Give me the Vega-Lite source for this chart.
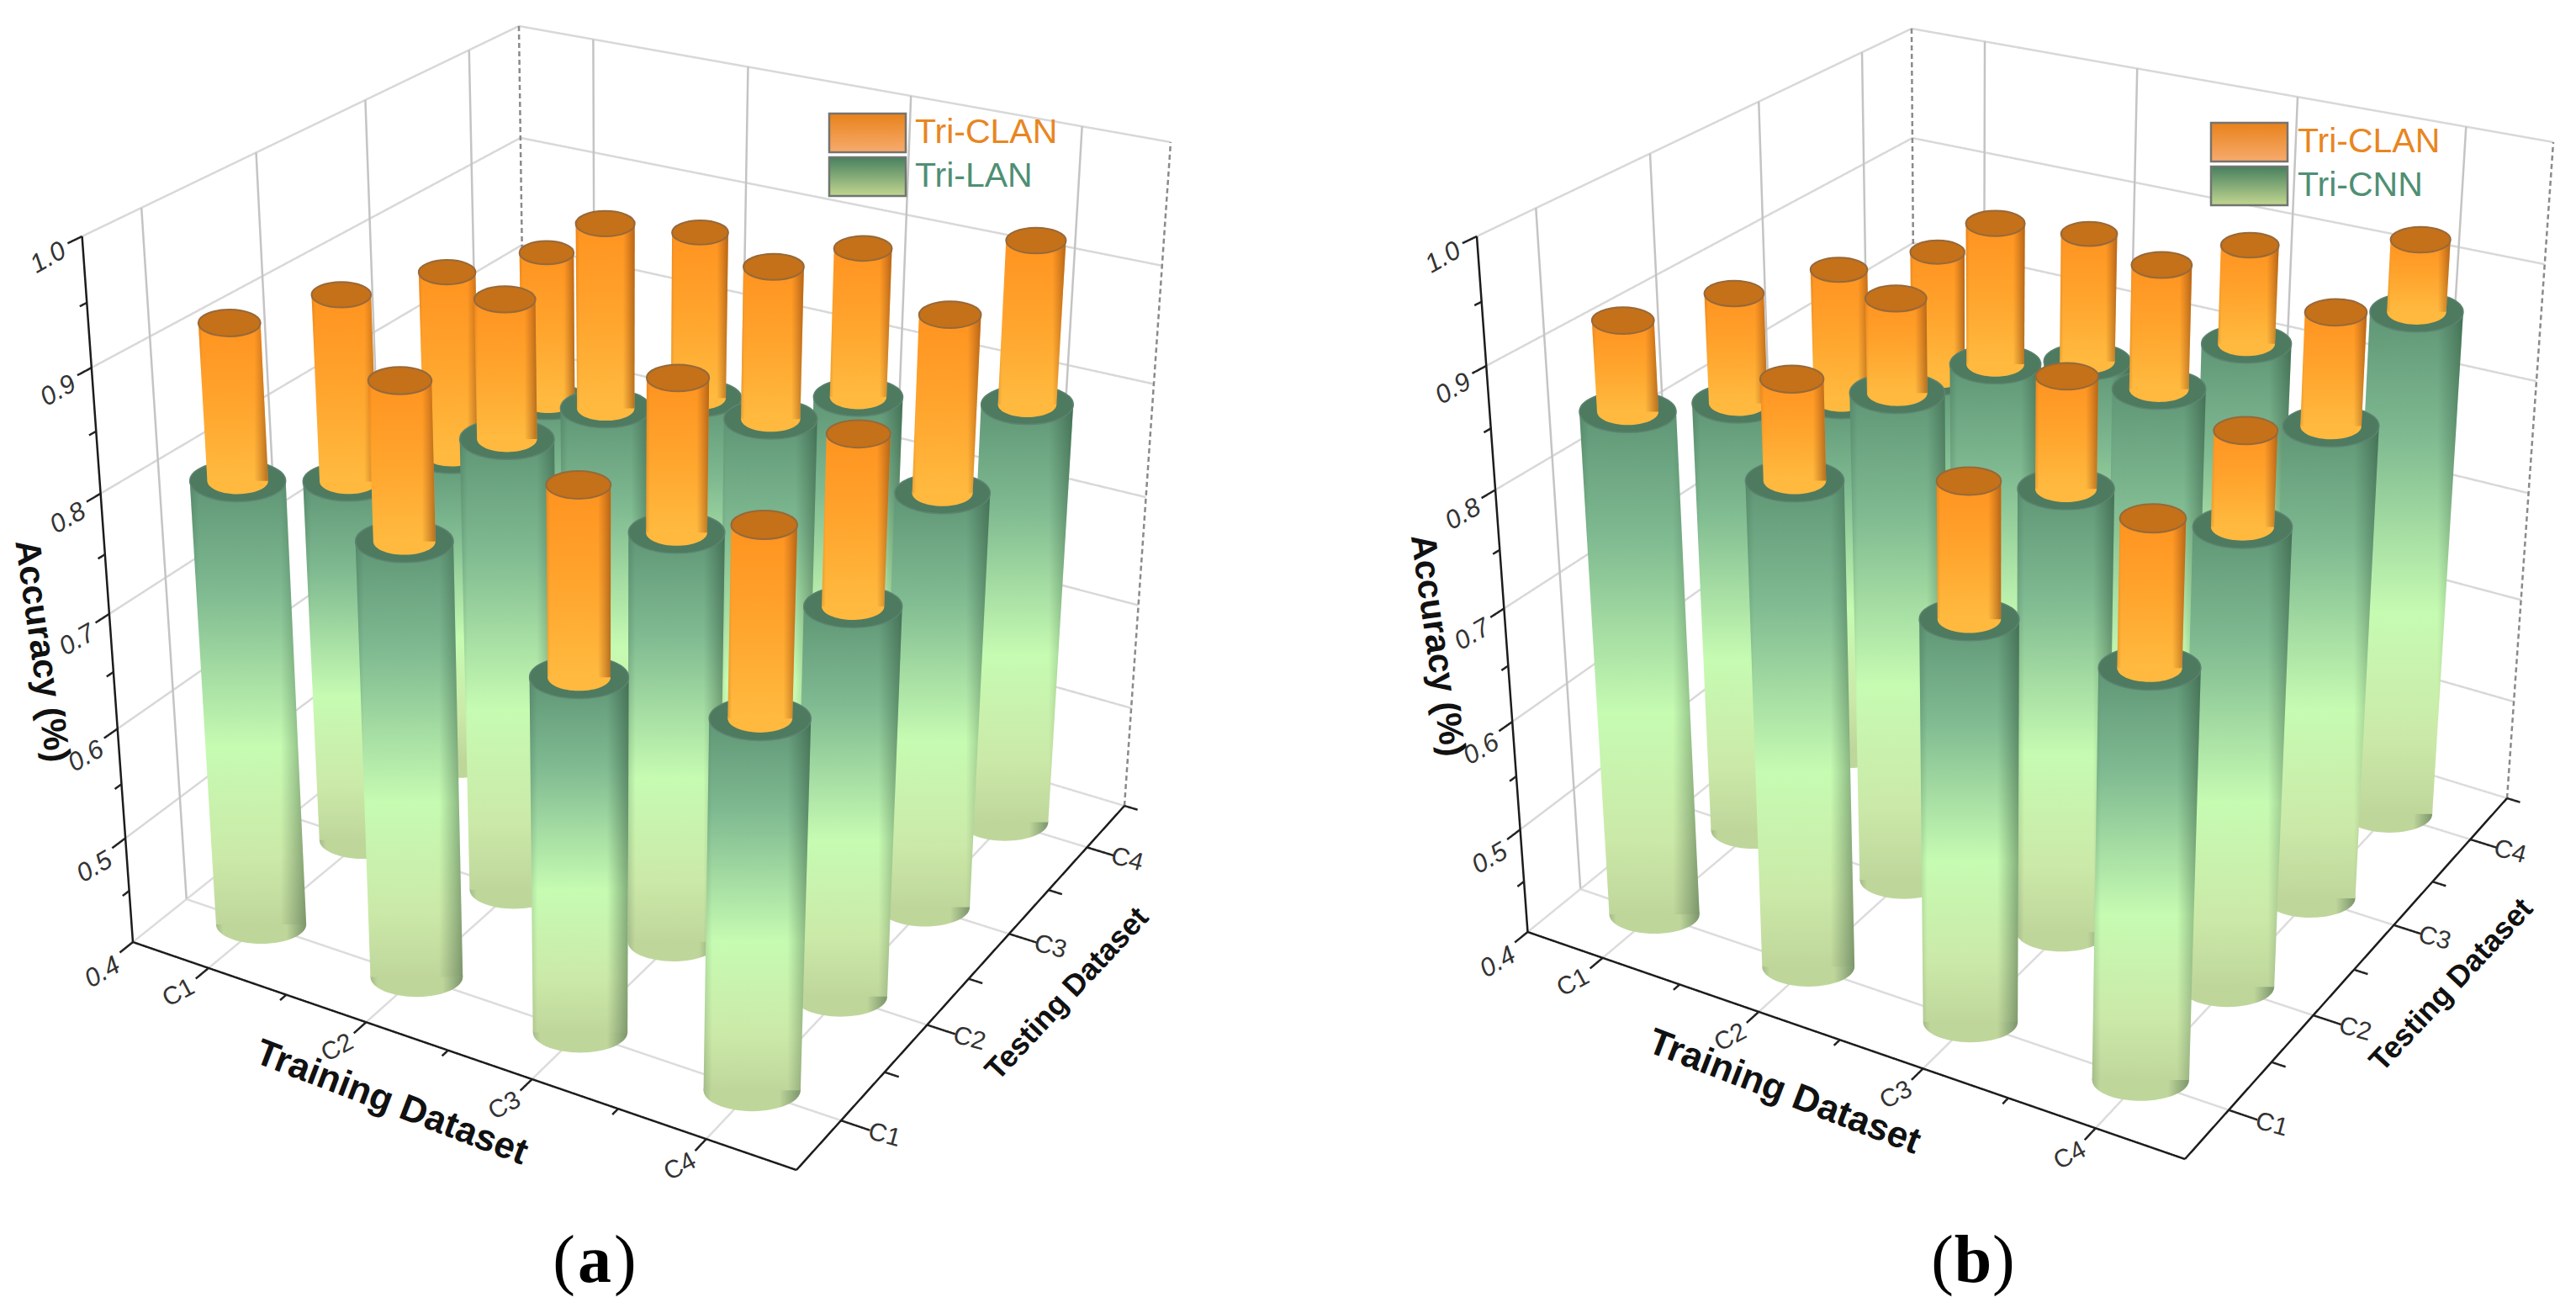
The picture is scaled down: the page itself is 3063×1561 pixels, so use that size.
{"$schema":"https://vega.github.io/schema/vega-lite/v6.json","width":3063,"height":1561,"padding":0,"autosize":{"type":"fit","contains":"padding"},"background":"white",
"params":[{"name":"cam","value":{"a":{"L":[158,1120],"F":[947,1391],"R":[1337,958],"B":[627,745],"TL":[97.6,281],"TF":[974,465],"TR":[1392,169],"TB":[617,31],"lg":[986,135,52,1088],"cap":707},"b":{"L":[1816.5,1108],"F":[2598,1378],"R":[2981,949],"B":[2278,733],"TL":[1756,281],"TF":[2625,465],"TR":[3036,169],"TB":[2273,34],"lg":[2629,146,52,2732],"cap":2346}}}],
"config":{"view":{"stroke":null},"axis":{"disable":true},"legend":{"disable":true},"style":{
"gbase":{"shape":"M-1,0 C-1,-0.24 -0.55,-0.43 0,-0.43 C0.55,-0.43 1,-0.24 1,0 C1,0.24 0.55,0.43 0,0.43 C-0.55,0.43 -1,0.24 -1,0 Z","opacity":1,"color":{"gradient":"linear","x1":0,"y1":0,"x2":1,"y2":0,"stops":[{"offset":0,"color":"#a4bc88"},{"offset":0.08,"color":"#bfd69b"},{"offset":0.78,"color":"#bfd69b"},{"offset":1,"color":"#7b956b"}]}},
"gbody":{"opacity":1,"color":{"gradient":"linear","x1":0,"y1":0,"x2":0,"y2":1,"stops":[{"offset":0,"color":"#5f9676"},{"offset":0.25,"color":"#7fba91"},{"offset":0.6,"color":"#c6fbb2"},{"offset":0.85,"color":"#cbe9a8"},{"offset":1,"color":"#bfd69b"}]}},
"gshade":{"opacity":1,"color":{"gradient":"linear","x1":0,"y1":0,"x2":1,"y2":0,"stops":[{"offset":0,"color":"rgba(40,70,50,0.18)"},{"offset":0.08,"color":"rgba(40,70,50,0)"},{"offset":0.78,"color":"rgba(40,70,50,0)"},{"offset":1,"color":"rgba(30,60,40,0.42)"}]}},
"gcap":{"shape":"M-1,0 C-1,-0.24 -0.55,-0.43 0,-0.43 C0.55,-0.43 1,-0.24 1,0 C1,0.24 0.55,0.43 0,0.43 C-0.55,0.43 -1,0.24 -1,0 Z","opacity":1,"color":"#4e7a60","stroke":"#5d8470","strokeWidth":1.5},
"obase":{"shape":"M-1,0 C-1,-0.24 -0.55,-0.43 0,-0.43 C0.55,-0.43 1,-0.24 1,0 C1,0.24 0.55,0.43 0,0.43 C-0.55,0.43 -1,0.24 -1,0 Z","opacity":1,"color":"#ffb93e","strokeWidth":0},
"obody":{"opacity":1,"color":{"gradient":"linear","x1":0,"y1":0,"x2":0,"y2":1,"stops":[{"offset":0,"color":"#ff9320"},{"offset":0.5,"color":"#ffa42d"},{"offset":1,"color":"#ffba3f"}]}},
"oshade":{"opacity":1,"color":{"gradient":"linear","x1":0,"y1":0,"x2":1,"y2":0,"stops":[{"offset":0,"color":"rgba(170,90,20,0.25)"},{"offset":0.06,"color":"rgba(170,90,20,0)"},{"offset":0.8,"color":"rgba(170,90,20,0)"},{"offset":1,"color":"rgba(150,80,20,0.7)"}]}},
"ocap":{"shape":"M-1,0 C-1,-0.24 -0.55,-0.43 0,-0.43 C0.55,-0.43 1,-0.24 1,0 C1,0.24 0.55,0.43 0,0.43 C-0.55,0.43 -1,0.24 -1,0 Z","opacity":1,"color":"#c4711a","stroke":"#96693a","strokeWidth":2}}},
"layer":[
{"data":{"values":[
{"k":"floor","id":"f0","p":[0,0,1],"q":[0,1,1],"z":[0.4,0.4,0.4]},
{"k":"grid","id":"g5","p":[0,0,1],"q":[0,1,1],"z":[0.5,0.5,0.5]},
{"k":"grid","id":"g6","p":[0,0,1],"q":[0,1,1],"z":[0.6,0.6,0.6]},
{"k":"grid","id":"g7","p":[0,0,1],"q":[0,1,1],"z":[0.7,0.7,0.7]},
{"k":"grid","id":"g8","p":[0,0,1],"q":[0,1,1],"z":[0.8,0.8,0.8]},
{"k":"grid","id":"g9","p":[0,0,1],"q":[0,1,1],"z":[0.9,0.9,0.9]},
{"k":"grid","id":"g10","p":[0,0,1],"q":[0,1,1],"z":[1,1,1]},
{"k":"wall","id":"w1","p":[0,0],"q":[0.125,0.125],"z":[0.4,1]},
{"k":"wall","id":"w2","p":[0,0],"q":[0.375,0.375],"z":[0.4,1]},
{"k":"wall","id":"w3","p":[0,0],"q":[0.625,0.625],"z":[0.4,1]},
{"k":"wall","id":"w4","p":[0,0],"q":[0.875,0.875],"z":[0.4,1]},
{"k":"wall","id":"w5","p":[0.125,0.125],"q":[1,1],"z":[0.4,1]},
{"k":"wall","id":"w6","p":[0.375,0.375],"q":[1,1],"z":[0.4,1]},
{"k":"wall","id":"w7","p":[0.625,0.625],"q":[1,1],"z":[0.4,1]},
{"k":"wall","id":"w8","p":[0.875,0.875],"q":[1,1],"z":[0.4,1]},
{"k":"floor","id":"f1","p":[0.125,0.125],"q":[0,1],"z":[0.4,0.4]},
{"k":"floor","id":"f2","p":[0.375,0.375],"q":[0,1],"z":[0.4,0.4]},
{"k":"floor","id":"f3","p":[0.625,0.625],"q":[0,1],"z":[0.4,0.4]},
{"k":"floor","id":"f4","p":[0.875,0.875],"q":[0,1],"z":[0.4,0.4]},
{"k":"floor","id":"f5","p":[0,1],"q":[0.125,0.125],"z":[0.4,0.4]},
{"k":"floor","id":"f6","p":[0,1],"q":[0.375,0.375],"z":[0.4,0.4]},
{"k":"floor","id":"f7","p":[0,1],"q":[0.625,0.625],"z":[0.4,0.4]},
{"k":"floor","id":"f8","p":[0,1],"q":[0.875,0.875],"z":[0.4,0.4]},
{"k":"edge","id":"e1","p":[0,0],"q":[1,1],"z":[0.4,1]},
{"k":"edge","id":"e2","p":[1,1],"q":[1,1],"z":[0.4,1]},
{"k":"axis","id":"a1","p":[0,0],"q":[0,0],"z":[0.4,1]},
{"k":"axis","id":"a2","p":[0,1],"q":[0,0],"z":[0.4,0.4]},
{"k":"axis","id":"a3","p":[1,1],"q":[0,1],"z":[0.4,0.4]},
{"k":"tick","id":"t1","p":[0.125,0.125],"q":[0,-0.03],"z":[0.4,0.4]},
{"k":"tick","id":"t2","p":[0.375,0.375],"q":[0,-0.03],"z":[0.4,0.4]},
{"k":"tick","id":"t3","p":[0.625,0.625],"q":[0,-0.03],"z":[0.4,0.4]},
{"k":"tick","id":"t4","p":[0.875,0.875],"q":[0,-0.03],"z":[0.4,0.4]},
{"k":"tick","id":"t5","p":[0.25,0.25],"q":[0,-0.015],"z":[0.4,0.4]},
{"k":"tick","id":"t6","p":[0.5,0.5],"q":[0,-0.015],"z":[0.4,0.4]},
{"k":"tick","id":"t7","p":[0.75,0.75],"q":[0,-0.015],"z":[0.4,0.4]},
{"k":"tick","id":"u1","p":[1,1.04],"q":[0.125,0.125],"z":[0.4,0.4]},
{"k":"tick","id":"u2","p":[1,1.04],"q":[0.375,0.375],"z":[0.4,0.4]},
{"k":"tick","id":"u3","p":[1,1.04],"q":[0.625,0.625],"z":[0.4,0.4]},
{"k":"tick","id":"u4","p":[1,1.04],"q":[0.875,0.875],"z":[0.4,0.4]},
{"k":"tick","id":"u5","p":[1,1.02],"q":[0.25,0.25],"z":[0.4,0.4]},
{"k":"tick","id":"u6","p":[1,1.02],"q":[0.5,0.5],"z":[0.4,0.4]},
{"k":"tick","id":"u7","p":[1,1.02],"q":[0.75,0.75],"z":[0.4,0.4]},
{"k":"tick","id":"u8","p":[1,1.02],"q":[1,1],"z":[0.4,0.4]},
{"k":"tick","id":"z1","p":[0,0],"q":[0,-0.03],"z":[0.4,0.4]},
{"k":"tick","id":"z2","p":[0,0],"q":[0,-0.03],"z":[0.5,0.5]},
{"k":"tick","id":"z3","p":[0,0],"q":[0,-0.03],"z":[0.6,0.6]},
{"k":"tick","id":"z4","p":[0,0],"q":[0,-0.03],"z":[0.7,0.7]},
{"k":"tick","id":"z5","p":[0,0],"q":[0,-0.03],"z":[0.8,0.8]},
{"k":"tick","id":"z6","p":[0,0],"q":[0,-0.03],"z":[0.9,0.9]},
{"k":"tick","id":"z7","p":[0,0],"q":[0,-0.03],"z":[1,1]},
{"k":"tick","id":"y1","p":[0,0],"q":[0,-0.015],"z":[0.45,0.45]},
{"k":"tick","id":"y2","p":[0,0],"q":[0,-0.015],"z":[0.55,0.55]},
{"k":"tick","id":"y3","p":[0,0],"q":[0,-0.015],"z":[0.65,0.65]},
{"k":"tick","id":"y4","p":[0,0],"q":[0,-0.015],"z":[0.75,0.75]},
{"k":"tick","id":"y5","p":[0,0],"q":[0,-0.015],"z":[0.85,0.85]},
{"k":"tick","id":"y6","p":[0,0],"q":[0,-0.015],"z":[0.95,0.95]}
]},
"transform":[{"flatten":["p","q","z"]},{"calculate":"['a','b']","as":"panel"},{"flatten":["panel"]},{"calculate":"datum.panel+datum.id","as":"lid"},
{"calculate":"datum.p*(0.9+0.1*datum.p)","as":"u"},{"calculate":"1-(1-datum.q)*(0.9+0.1*(1-datum.q))","as":"v"},{"calculate":"(datum.z-0.4)/0.6","as":"t"},{"calculate":"datum.t*(0.86+0.14*datum.t)","as":"w"},{"calculate":"cam[datum.panel]","as":"c"},{"calculate":"(1-datum.u)*(1-datum.v)","as":"a"},{"calculate":"datum.u*(1-datum.v)","as":"b"},{"calculate":"datum.u*datum.v","as":"e"},{"calculate":"(1-datum.u)*datum.v","as":"f"},
{"calculate":"(1-datum.w)*(datum.a*datum.c.L[0]+datum.b*datum.c.F[0]+datum.e*datum.c.R[0]+datum.f*datum.c.B[0])+datum.w*(datum.a*datum.c.TL[0]+datum.b*datum.c.TF[0]+datum.e*datum.c.TR[0]+datum.f*datum.c.TB[0])","as":"sx"},
{"calculate":"(1-datum.w)*(datum.a*datum.c.L[1]+datum.b*datum.c.F[1]+datum.e*datum.c.R[1]+datum.f*datum.c.B[1])+datum.w*(datum.a*datum.c.TL[1]+datum.b*datum.c.TF[1]+datum.e*datum.c.TR[1]+datum.f*datum.c.TB[1])","as":"sy"}],
"mark":{"type":"line","opacity":1},
"encoding":{"x":{"field":"sx","type":"quantitative","scale":{"domain":[0,3063],"nice":false,"zero":false}},"y":{"field":"sy","type":"quantitative","scale":{"domain":[1561,0],"nice":false,"zero":false}},"detail":{"field":"lid"},
"color":{"field":"k","type":"nominal","scale":{"domain":["floor","grid","wall","edge","axis","tick"],"range":["#dcdcdc","#d8d8d8","#c4c4c4","#8a8a8a","#1c1c1c","#222222"]}},
"strokeWidth":{"field":"k","type":"ordinal","scale":{"domain":["floor","grid","wall","edge","axis","tick"],"range":[2.5,2.5,1.2,1.3,3.5,2.5]}},
"strokeDash":{"field":"k","type":"nominal","scale":{"domain":["floor","grid","wall","edge","axis","tick"],"range":[[1,0],[1,0],[1,0],[6,4],[1,0],[1,0]]}}}},
{"data":{"values":[
{"k":"z","text":"1.0","p":0,"q":-0.075,"z":1},{"k":"z","text":"0.9","p":0,"q":-0.075,"z":0.9},{"k":"z","text":"0.8","p":0,"q":-0.075,"z":0.8},{"k":"z","text":"0.7","p":0,"q":-0.075,"z":0.7},{"k":"z","text":"0.6","p":0,"q":-0.075,"z":0.6},{"k":"z","text":"0.5","p":0,"q":-0.075,"z":0.5},{"k":"z","text":"0.4","p":0,"q":-0.075,"z":0.4},
{"k":"tr","text":"C1","p":0.125,"q":-0.07,"z":0.4},{"k":"tr","text":"C2","p":0.375,"q":-0.07,"z":0.4},{"k":"tr","text":"C3","p":0.625,"q":-0.07,"z":0.4},{"k":"tr","text":"C4","p":0.875,"q":-0.07,"z":0.4},
{"k":"te","text":"C1","p":1.06,"q":0.125,"z":0.4},{"k":"te","text":"C2","p":1.06,"q":0.375,"z":0.4},{"k":"te","text":"C3","p":1.06,"q":0.625,"z":0.4},{"k":"te","text":"C4","p":1.06,"q":0.875,"z":0.4},
{"k":"t1","text":"Training Dataset","p":0.5,"q":-0.14,"z":0.4},{"k":"t2","text":"Testing Dataset","p":1.125,"q":0.535,"z":0.4},{"k":"t3","text":"Accuracy (%)","p":0,"q":-0.145,"z":0.705}
]},
"transform":[{"calculate":"['a','b']","as":"panel"},{"flatten":["panel"]},
{"calculate":"datum.p*(0.9+0.1*datum.p)","as":"u"},{"calculate":"1-(1-datum.q)*(0.9+0.1*(1-datum.q))","as":"v"},{"calculate":"(datum.z-0.4)/0.6","as":"t"},{"calculate":"datum.t*(0.86+0.14*datum.t)","as":"w"},{"calculate":"cam[datum.panel]","as":"c"},{"calculate":"(1-datum.u)*(1-datum.v)","as":"a"},{"calculate":"datum.u*(1-datum.v)","as":"b"},{"calculate":"datum.u*datum.v","as":"e"},{"calculate":"(1-datum.u)*datum.v","as":"f"},
{"calculate":"(1-datum.w)*(datum.a*datum.c.L[0]+datum.b*datum.c.F[0]+datum.e*datum.c.R[0]+datum.f*datum.c.B[0])+datum.w*(datum.a*datum.c.TL[0]+datum.b*datum.c.TF[0]+datum.e*datum.c.TR[0]+datum.f*datum.c.TB[0])","as":"sx"},
{"calculate":"(1-datum.w)*(datum.a*datum.c.L[1]+datum.b*datum.c.F[1]+datum.e*datum.c.R[1]+datum.f*datum.c.B[1])+datum.w*(datum.a*datum.c.TL[1]+datum.b*datum.c.TF[1]+datum.e*datum.c.TR[1]+datum.f*datum.c.TB[1])","as":"sy"}],
"encoding":{"x":{"field":"sx","type":"quantitative"},"y":{"field":"sy","type":"quantitative"},"text":{"field":"text"}},
"layer":[
{"transform":[{"filter":"datum.k=='z'"}],"mark":{"type":"text","font":"Liberation Sans","fontSize":31,"fontStyle":"italic","fill":"#333333","angle":-30,"dy":6,"align":"center","baseline":"middle"}},
{"transform":[{"filter":"datum.k=='tr'"}],"mark":{"type":"text","font":"Liberation Sans","fontSize":30,"fill":"#333333","angle":-28,"align":"center","baseline":"middle"}},
{"transform":[{"filter":"datum.k=='te'"}],"mark":{"type":"text","font":"Liberation Sans","fontSize":30,"fill":"#333333","angle":15,"align":"center","baseline":"middle"}},
{"transform":[{"filter":"datum.k=='t1'"}],"mark":{"type":"text","font":"Liberation Sans","fontSize":44,"fontWeight":"bold","fill":"#111111","angle":21,"align":"center","baseline":"middle"}},
{"transform":[{"filter":"datum.k=='t2'"}],"mark":{"type":"text","font":"Liberation Sans","fontSize":36,"fontWeight":"bold","fill":"#111111","angle":-47,"align":"center","baseline":"middle"}},
{"transform":[{"filter":"datum.k=='t3'"}],"mark":{"type":"text","font":"Liberation Sans","fontSize":42,"fontWeight":"bold","fill":"#111111","angle":82,"align":"center","baseline":"middle"}}
]},
{"data":{"values":[
{"panel":"a","train":1,"test":1,"base":0.4,"dual":0.799,"clan":0.925},{"panel":"a","train":1,"test":2,"base":0.4,"dual":0.741,"clan":0.899},{"panel":"a","train":1,"test":3,"base":0.4,"dual":0.705,"clan":0.868},{"panel":"a","train":1,"test":4,"base":0.4,"dual":0.694,"clan":0.834},
{"panel":"a","train":2,"test":1,"base":0.4,"dual":0.784,"clan":0.91},{"panel":"a","train":2,"test":2,"base":0.4,"dual":0.811,"clan":0.924},{"panel":"a","train":2,"test":3,"base":0.4,"dual":0.781,"clan":0.937},{"panel":"a","train":2,"test":4,"base":0.4,"dual":0.732,"clan":0.881},
{"panel":"a","train":3,"test":1,"base":0.4,"dual":0.711,"clan":0.862},{"panel":"a","train":3,"test":2,"base":0.4,"dual":0.768,"clan":0.892},{"panel":"a","train":3,"test":3,"base":0.4,"dual":0.805,"clan":0.93},{"panel":"a","train":3,"test":4,"base":0.4,"dual":0.767,"clan":0.896},
{"panel":"a","train":4,"test":1,"base":0.4,"dual":0.717,"clan":0.865},{"panel":"a","train":4,"test":2,"base":0.4,"dual":0.744,"clan":0.88},{"panel":"a","train":4,"test":3,"base":0.4,"dual":0.777,"clan":0.921},{"panel":"a","train":4,"test":4,"base":0.4,"dual":0.794,"clan":0.931},
{"panel":"b","train":1,"test":1,"base":0.4,"dual":0.853,"clan":0.926},{"panel":"b","train":1,"test":2,"base":0.4,"dual":0.806,"clan":0.899},{"panel":"b","train":1,"test":3,"base":0.4,"dual":0.752,"clan":0.869},{"panel":"b","train":1,"test":4,"base":0.4,"dual":0.714,"clan":0.833},
{"panel":"b","train":2,"test":1,"base":0.4,"dual":0.83,"clan":0.91},{"panel":"b","train":2,"test":2,"base":0.4,"dual":0.847,"clan":0.924},{"panel":"b","train":2,"test":3,"base":0.4,"dual":0.817,"clan":0.937},{"panel":"b","train":2,"test":4,"base":0.4,"dual":0.763,"clan":0.879},
{"panel":"b","train":3,"test":1,"base":0.4,"dual":0.754,"clan":0.863},{"panel":"b","train":3,"test":2,"base":0.4,"dual":0.801,"clan":0.892},{"panel":"b","train":3,"test":3,"base":0.4,"dual":0.828,"clan":0.931},{"panel":"b","train":3,"test":4,"base":0.4,"dual":0.812,"clan":0.898},
{"panel":"b","train":4,"test":1,"base":0.4,"dual":0.753,"clan":0.868},{"panel":"b","train":4,"test":2,"base":0.4,"dual":0.805,"clan":0.881},{"panel":"b","train":4,"test":3,"base":0.4,"dual":0.83,"clan":0.922},{"panel":"b","train":4,"test":4,"base":0.4,"dual":0.871,"clan":0.931}
]},
"transform":[{"calculate":"(datum.train-0.5)/4","as":"p"},{"calculate":"(datum.test-0.5)/4","as":"q"},{"calculate":"datum.train-datum.test","as":"d"},{"calculate":"datum.panel+datum.train+'-'+datum.test","as":"id"},{"fold":["base","dual","clan"],"as":["key","z"]},
{"calculate":"datum.p*(0.9+0.1*datum.p)","as":"u"},{"calculate":"1-(1-datum.q)*(0.9+0.1*(1-datum.q))","as":"v"},{"calculate":"(datum.z-0.4)/0.6","as":"t"},{"calculate":"datum.t*(0.86+0.14*datum.t)","as":"w"},{"calculate":"cam[datum.panel]","as":"c"},{"calculate":"(1-datum.u)*(1-datum.v)","as":"a"},{"calculate":"datum.u*(1-datum.v)","as":"b"},{"calculate":"datum.u*datum.v","as":"e"},{"calculate":"(1-datum.u)*datum.v","as":"f"},
{"calculate":"(1-datum.w)*(datum.a*datum.c.L[0]+datum.b*datum.c.F[0]+datum.e*datum.c.R[0]+datum.f*datum.c.B[0])+datum.w*(datum.a*datum.c.TL[0]+datum.b*datum.c.TF[0]+datum.e*datum.c.TR[0]+datum.f*datum.c.TB[0])","as":"sx"},
{"calculate":"(1-datum.w)*(datum.a*datum.c.L[1]+datum.b*datum.c.F[1]+datum.e*datum.c.R[1]+datum.f*datum.c.B[1])+datum.w*(datum.a*datum.c.TL[1]+datum.b*datum.c.TF[1]+datum.e*datum.c.TR[1]+datum.f*datum.c.TB[1])","as":"sy"},
{"calculate":"(92+27*(0.4*datum.u+0.6*(1-datum.v)))*(1+0.1*datum.w)","as":"wg"},{"calculate":"0.635*datum.wg","as":"wo"},{"calculate":"datum.sx-datum.wg/2","as":"xgl"},{"calculate":"datum.sx+datum.wg/2","as":"xgr"},{"calculate":"datum.sx-datum.wo/2","as":"xol"},{"calculate":"datum.sx+datum.wo/2","as":"xor"},{"calculate":"datum.wg*datum.wg","as":"sg"},{"calculate":"datum.wo*datum.wo","as":"so"}],
"encoding":{"y":{"field":"sy","type":"quantitative"}},
"layer":[
{"transform":[{"filter":"datum.d==-3"}],"layer":[
{"transform":[{"filter":"datum.key=='base'"}],"mark":{"type":"point","filled":true,"style":"gbase"},"encoding":{"x":{"field":"sx","type":"quantitative"},"size":{"field":"sg","type":"quantitative","scale":null}}},
{"transform":[{"filter":"datum.key!='clan'"}],"mark":{"type":"area","orient":"horizontal","style":"gbody"},"encoding":{"x":{"field":"xgl","type":"quantitative"},"x2":{"field":"xgr"},"detail":{"field":"id"}}},
{"transform":[{"filter":"datum.key!='clan'"}],"mark":{"type":"area","orient":"horizontal","style":"gshade"},"encoding":{"x":{"field":"xgl","type":"quantitative"},"x2":{"field":"xgr"},"detail":{"field":"id"}}},
{"transform":[{"filter":"datum.key=='dual'"}],"mark":{"type":"point","filled":true,"style":"gcap"},"encoding":{"x":{"field":"sx","type":"quantitative"},"size":{"field":"sg","type":"quantitative","scale":null}}},
{"transform":[{"filter":"datum.key=='dual'"}],"mark":{"type":"point","filled":true,"style":"obase"},"encoding":{"x":{"field":"sx","type":"quantitative"},"size":{"field":"so","type":"quantitative","scale":null}}},
{"transform":[{"filter":"datum.key!='base'"}],"mark":{"type":"area","orient":"horizontal","style":"obody"},"encoding":{"x":{"field":"xol","type":"quantitative"},"x2":{"field":"xor"},"detail":{"field":"id"}}},
{"transform":[{"filter":"datum.key!='base'"}],"mark":{"type":"area","orient":"horizontal","style":"oshade"},"encoding":{"x":{"field":"xol","type":"quantitative"},"x2":{"field":"xor"},"detail":{"field":"id"}}},
{"transform":[{"filter":"datum.key=='clan'"}],"mark":{"type":"point","filled":true,"style":"ocap"},"encoding":{"x":{"field":"sx","type":"quantitative"},"size":{"field":"so","type":"quantitative","scale":null}}}
]},
{"transform":[{"filter":"datum.d==-2"}],"layer":[
{"transform":[{"filter":"datum.key=='base'"}],"mark":{"type":"point","filled":true,"style":"gbase"},"encoding":{"x":{"field":"sx","type":"quantitative"},"size":{"field":"sg","type":"quantitative","scale":null}}},
{"transform":[{"filter":"datum.key!='clan'"}],"mark":{"type":"area","orient":"horizontal","style":"gbody"},"encoding":{"x":{"field":"xgl","type":"quantitative"},"x2":{"field":"xgr"},"detail":{"field":"id"}}},
{"transform":[{"filter":"datum.key!='clan'"}],"mark":{"type":"area","orient":"horizontal","style":"gshade"},"encoding":{"x":{"field":"xgl","type":"quantitative"},"x2":{"field":"xgr"},"detail":{"field":"id"}}},
{"transform":[{"filter":"datum.key=='dual'"}],"mark":{"type":"point","filled":true,"style":"gcap"},"encoding":{"x":{"field":"sx","type":"quantitative"},"size":{"field":"sg","type":"quantitative","scale":null}}},
{"transform":[{"filter":"datum.key=='dual'"}],"mark":{"type":"point","filled":true,"style":"obase"},"encoding":{"x":{"field":"sx","type":"quantitative"},"size":{"field":"so","type":"quantitative","scale":null}}},
{"transform":[{"filter":"datum.key!='base'"}],"mark":{"type":"area","orient":"horizontal","style":"obody"},"encoding":{"x":{"field":"xol","type":"quantitative"},"x2":{"field":"xor"},"detail":{"field":"id"}}},
{"transform":[{"filter":"datum.key!='base'"}],"mark":{"type":"area","orient":"horizontal","style":"oshade"},"encoding":{"x":{"field":"xol","type":"quantitative"},"x2":{"field":"xor"},"detail":{"field":"id"}}},
{"transform":[{"filter":"datum.key=='clan'"}],"mark":{"type":"point","filled":true,"style":"ocap"},"encoding":{"x":{"field":"sx","type":"quantitative"},"size":{"field":"so","type":"quantitative","scale":null}}}
]},
{"transform":[{"filter":"datum.d==-1"}],"layer":[
{"transform":[{"filter":"datum.key=='base'"}],"mark":{"type":"point","filled":true,"style":"gbase"},"encoding":{"x":{"field":"sx","type":"quantitative"},"size":{"field":"sg","type":"quantitative","scale":null}}},
{"transform":[{"filter":"datum.key!='clan'"}],"mark":{"type":"area","orient":"horizontal","style":"gbody"},"encoding":{"x":{"field":"xgl","type":"quantitative"},"x2":{"field":"xgr"},"detail":{"field":"id"}}},
{"transform":[{"filter":"datum.key!='clan'"}],"mark":{"type":"area","orient":"horizontal","style":"gshade"},"encoding":{"x":{"field":"xgl","type":"quantitative"},"x2":{"field":"xgr"},"detail":{"field":"id"}}},
{"transform":[{"filter":"datum.key=='dual'"}],"mark":{"type":"point","filled":true,"style":"gcap"},"encoding":{"x":{"field":"sx","type":"quantitative"},"size":{"field":"sg","type":"quantitative","scale":null}}},
{"transform":[{"filter":"datum.key=='dual'"}],"mark":{"type":"point","filled":true,"style":"obase"},"encoding":{"x":{"field":"sx","type":"quantitative"},"size":{"field":"so","type":"quantitative","scale":null}}},
{"transform":[{"filter":"datum.key!='base'"}],"mark":{"type":"area","orient":"horizontal","style":"obody"},"encoding":{"x":{"field":"xol","type":"quantitative"},"x2":{"field":"xor"},"detail":{"field":"id"}}},
{"transform":[{"filter":"datum.key!='base'"}],"mark":{"type":"area","orient":"horizontal","style":"oshade"},"encoding":{"x":{"field":"xol","type":"quantitative"},"x2":{"field":"xor"},"detail":{"field":"id"}}},
{"transform":[{"filter":"datum.key=='clan'"}],"mark":{"type":"point","filled":true,"style":"ocap"},"encoding":{"x":{"field":"sx","type":"quantitative"},"size":{"field":"so","type":"quantitative","scale":null}}}
]},
{"transform":[{"filter":"datum.d==0"}],"layer":[
{"transform":[{"filter":"datum.key=='base'"}],"mark":{"type":"point","filled":true,"style":"gbase"},"encoding":{"x":{"field":"sx","type":"quantitative"},"size":{"field":"sg","type":"quantitative","scale":null}}},
{"transform":[{"filter":"datum.key!='clan'"}],"mark":{"type":"area","orient":"horizontal","style":"gbody"},"encoding":{"x":{"field":"xgl","type":"quantitative"},"x2":{"field":"xgr"},"detail":{"field":"id"}}},
{"transform":[{"filter":"datum.key!='clan'"}],"mark":{"type":"area","orient":"horizontal","style":"gshade"},"encoding":{"x":{"field":"xgl","type":"quantitative"},"x2":{"field":"xgr"},"detail":{"field":"id"}}},
{"transform":[{"filter":"datum.key=='dual'"}],"mark":{"type":"point","filled":true,"style":"gcap"},"encoding":{"x":{"field":"sx","type":"quantitative"},"size":{"field":"sg","type":"quantitative","scale":null}}},
{"transform":[{"filter":"datum.key=='dual'"}],"mark":{"type":"point","filled":true,"style":"obase"},"encoding":{"x":{"field":"sx","type":"quantitative"},"size":{"field":"so","type":"quantitative","scale":null}}},
{"transform":[{"filter":"datum.key!='base'"}],"mark":{"type":"area","orient":"horizontal","style":"obody"},"encoding":{"x":{"field":"xol","type":"quantitative"},"x2":{"field":"xor"},"detail":{"field":"id"}}},
{"transform":[{"filter":"datum.key!='base'"}],"mark":{"type":"area","orient":"horizontal","style":"oshade"},"encoding":{"x":{"field":"xol","type":"quantitative"},"x2":{"field":"xor"},"detail":{"field":"id"}}},
{"transform":[{"filter":"datum.key=='clan'"}],"mark":{"type":"point","filled":true,"style":"ocap"},"encoding":{"x":{"field":"sx","type":"quantitative"},"size":{"field":"so","type":"quantitative","scale":null}}}
]},
{"transform":[{"filter":"datum.d==1"}],"layer":[
{"transform":[{"filter":"datum.key=='base'"}],"mark":{"type":"point","filled":true,"style":"gbase"},"encoding":{"x":{"field":"sx","type":"quantitative"},"size":{"field":"sg","type":"quantitative","scale":null}}},
{"transform":[{"filter":"datum.key!='clan'"}],"mark":{"type":"area","orient":"horizontal","style":"gbody"},"encoding":{"x":{"field":"xgl","type":"quantitative"},"x2":{"field":"xgr"},"detail":{"field":"id"}}},
{"transform":[{"filter":"datum.key!='clan'"}],"mark":{"type":"area","orient":"horizontal","style":"gshade"},"encoding":{"x":{"field":"xgl","type":"quantitative"},"x2":{"field":"xgr"},"detail":{"field":"id"}}},
{"transform":[{"filter":"datum.key=='dual'"}],"mark":{"type":"point","filled":true,"style":"gcap"},"encoding":{"x":{"field":"sx","type":"quantitative"},"size":{"field":"sg","type":"quantitative","scale":null}}},
{"transform":[{"filter":"datum.key=='dual'"}],"mark":{"type":"point","filled":true,"style":"obase"},"encoding":{"x":{"field":"sx","type":"quantitative"},"size":{"field":"so","type":"quantitative","scale":null}}},
{"transform":[{"filter":"datum.key!='base'"}],"mark":{"type":"area","orient":"horizontal","style":"obody"},"encoding":{"x":{"field":"xol","type":"quantitative"},"x2":{"field":"xor"},"detail":{"field":"id"}}},
{"transform":[{"filter":"datum.key!='base'"}],"mark":{"type":"area","orient":"horizontal","style":"oshade"},"encoding":{"x":{"field":"xol","type":"quantitative"},"x2":{"field":"xor"},"detail":{"field":"id"}}},
{"transform":[{"filter":"datum.key=='clan'"}],"mark":{"type":"point","filled":true,"style":"ocap"},"encoding":{"x":{"field":"sx","type":"quantitative"},"size":{"field":"so","type":"quantitative","scale":null}}}
]},
{"transform":[{"filter":"datum.d==2"}],"layer":[
{"transform":[{"filter":"datum.key=='base'"}],"mark":{"type":"point","filled":true,"style":"gbase"},"encoding":{"x":{"field":"sx","type":"quantitative"},"size":{"field":"sg","type":"quantitative","scale":null}}},
{"transform":[{"filter":"datum.key!='clan'"}],"mark":{"type":"area","orient":"horizontal","style":"gbody"},"encoding":{"x":{"field":"xgl","type":"quantitative"},"x2":{"field":"xgr"},"detail":{"field":"id"}}},
{"transform":[{"filter":"datum.key!='clan'"}],"mark":{"type":"area","orient":"horizontal","style":"gshade"},"encoding":{"x":{"field":"xgl","type":"quantitative"},"x2":{"field":"xgr"},"detail":{"field":"id"}}},
{"transform":[{"filter":"datum.key=='dual'"}],"mark":{"type":"point","filled":true,"style":"gcap"},"encoding":{"x":{"field":"sx","type":"quantitative"},"size":{"field":"sg","type":"quantitative","scale":null}}},
{"transform":[{"filter":"datum.key=='dual'"}],"mark":{"type":"point","filled":true,"style":"obase"},"encoding":{"x":{"field":"sx","type":"quantitative"},"size":{"field":"so","type":"quantitative","scale":null}}},
{"transform":[{"filter":"datum.key!='base'"}],"mark":{"type":"area","orient":"horizontal","style":"obody"},"encoding":{"x":{"field":"xol","type":"quantitative"},"x2":{"field":"xor"},"detail":{"field":"id"}}},
{"transform":[{"filter":"datum.key!='base'"}],"mark":{"type":"area","orient":"horizontal","style":"oshade"},"encoding":{"x":{"field":"xol","type":"quantitative"},"x2":{"field":"xor"},"detail":{"field":"id"}}},
{"transform":[{"filter":"datum.key=='clan'"}],"mark":{"type":"point","filled":true,"style":"ocap"},"encoding":{"x":{"field":"sx","type":"quantitative"},"size":{"field":"so","type":"quantitative","scale":null}}}
]},
{"transform":[{"filter":"datum.d==3"}],"layer":[
{"transform":[{"filter":"datum.key=='base'"}],"mark":{"type":"point","filled":true,"style":"gbase"},"encoding":{"x":{"field":"sx","type":"quantitative"},"size":{"field":"sg","type":"quantitative","scale":null}}},
{"transform":[{"filter":"datum.key!='clan'"}],"mark":{"type":"area","orient":"horizontal","style":"gbody"},"encoding":{"x":{"field":"xgl","type":"quantitative"},"x2":{"field":"xgr"},"detail":{"field":"id"}}},
{"transform":[{"filter":"datum.key!='clan'"}],"mark":{"type":"area","orient":"horizontal","style":"gshade"},"encoding":{"x":{"field":"xgl","type":"quantitative"},"x2":{"field":"xgr"},"detail":{"field":"id"}}},
{"transform":[{"filter":"datum.key=='dual'"}],"mark":{"type":"point","filled":true,"style":"gcap"},"encoding":{"x":{"field":"sx","type":"quantitative"},"size":{"field":"sg","type":"quantitative","scale":null}}},
{"transform":[{"filter":"datum.key=='dual'"}],"mark":{"type":"point","filled":true,"style":"obase"},"encoding":{"x":{"field":"sx","type":"quantitative"},"size":{"field":"so","type":"quantitative","scale":null}}},
{"transform":[{"filter":"datum.key!='base'"}],"mark":{"type":"area","orient":"horizontal","style":"obody"},"encoding":{"x":{"field":"xol","type":"quantitative"},"x2":{"field":"xor"},"detail":{"field":"id"}}},
{"transform":[{"filter":"datum.key!='base'"}],"mark":{"type":"area","orient":"horizontal","style":"oshade"},"encoding":{"x":{"field":"xol","type":"quantitative"},"x2":{"field":"xor"},"detail":{"field":"id"}}},
{"transform":[{"filter":"datum.key=='clan'"}],"mark":{"type":"point","filled":true,"style":"ocap"},"encoding":{"x":{"field":"sx","type":"quantitative"},"size":{"field":"so","type":"quantitative","scale":null}}}
]}
]},
{"data":{"values":[{"panel":"a","series":"Tri-CLAN","o":0},{"panel":"a","series":"Tri-LAN","o":1},{"panel":"b","series":"Tri-CLAN","o":0},{"panel":"b","series":"Tri-CNN","o":1}]},
"transform":[{"calculate":"cam[datum.panel].lg","as":"g"},{"calculate":"datum.g[0]","as":"x0"},{"calculate":"datum.g[0]+91","as":"x1"},{"calculate":"datum.g[1]+datum.g[2]*datum.o","as":"y0"},{"calculate":"datum.y0+46","as":"y1"},{"calculate":"datum.y0+23","as":"ym"},{"calculate":"datum.g[3]","as":"xt"}],
"layer":[
{"transform":[{"filter":"datum.o==0"}],"mark":{"type":"rect","stroke":"#77736e","strokeWidth":2.5,"opacity":1,"fill":{"gradient":"linear","x1":0,"y1":0,"x2":0,"y2":1,"stops":[{"offset":0,"color":"#e8821a"},{"offset":1,"color":"#f7ab6e"}]}},"encoding":{"x":{"field":"x0","type":"quantitative"},"x2":{"field":"x1"},"y":{"field":"y0","type":"quantitative"},"y2":{"field":"y1"}}},
{"transform":[{"filter":"datum.o==1"}],"mark":{"type":"rect","stroke":"#6f7670","strokeWidth":2.5,"opacity":1,"fill":{"gradient":"linear","x1":0,"y1":0,"x2":0,"y2":1,"stops":[{"offset":0,"color":"#47805f"},{"offset":1,"color":"#c2d690"}]}},"encoding":{"x":{"field":"x0","type":"quantitative"},"x2":{"field":"x1"},"y":{"field":"y0","type":"quantitative"},"y2":{"field":"y1"}}},
{"transform":[{"filter":"datum.o==0"}],"mark":{"type":"text","font":"Liberation Sans","fontSize":41,"fill":"#e8861f","align":"left","baseline":"middle"},"encoding":{"x":{"field":"xt","type":"quantitative"},"y":{"field":"ym","type":"quantitative"},"text":{"field":"series"}}},
{"transform":[{"filter":"datum.o==1"}],"mark":{"type":"text","font":"Liberation Sans","fontSize":41,"fill":"#4f8f74","align":"left","baseline":"middle"},"encoding":{"x":{"field":"xt","type":"quantitative"},"y":{"field":"ym","type":"quantitative"},"text":{"field":"series"}}}
]},
{"data":{"values":[{"panel":"a","letter":"a"},{"panel":"b","letter":"b"}]},
"transform":[{"calculate":"cam[datum.panel].cap","as":"cx"},{"calculate":"1500","as":"cy"}],
"encoding":{"x":{"field":"cx","type":"quantitative"},"y":{"field":"cy","type":"quantitative"}},
"layer":[
{"mark":{"type":"text","font":"Liberation Serif","fontSize":80,"fill":"#000000","text":"(","align":"right","dx":-23,"baseline":"middle"}},
{"mark":{"type":"text","font":"Liberation Serif","fontSize":80,"fontWeight":"bold","fill":"#000000","align":"center","baseline":"middle"},"encoding":{"text":{"field":"letter"}}},
{"mark":{"type":"text","font":"Liberation Serif","fontSize":80,"fill":"#000000","text":")","align":"left","dx":23,"baseline":"middle"}}
]}
]}
